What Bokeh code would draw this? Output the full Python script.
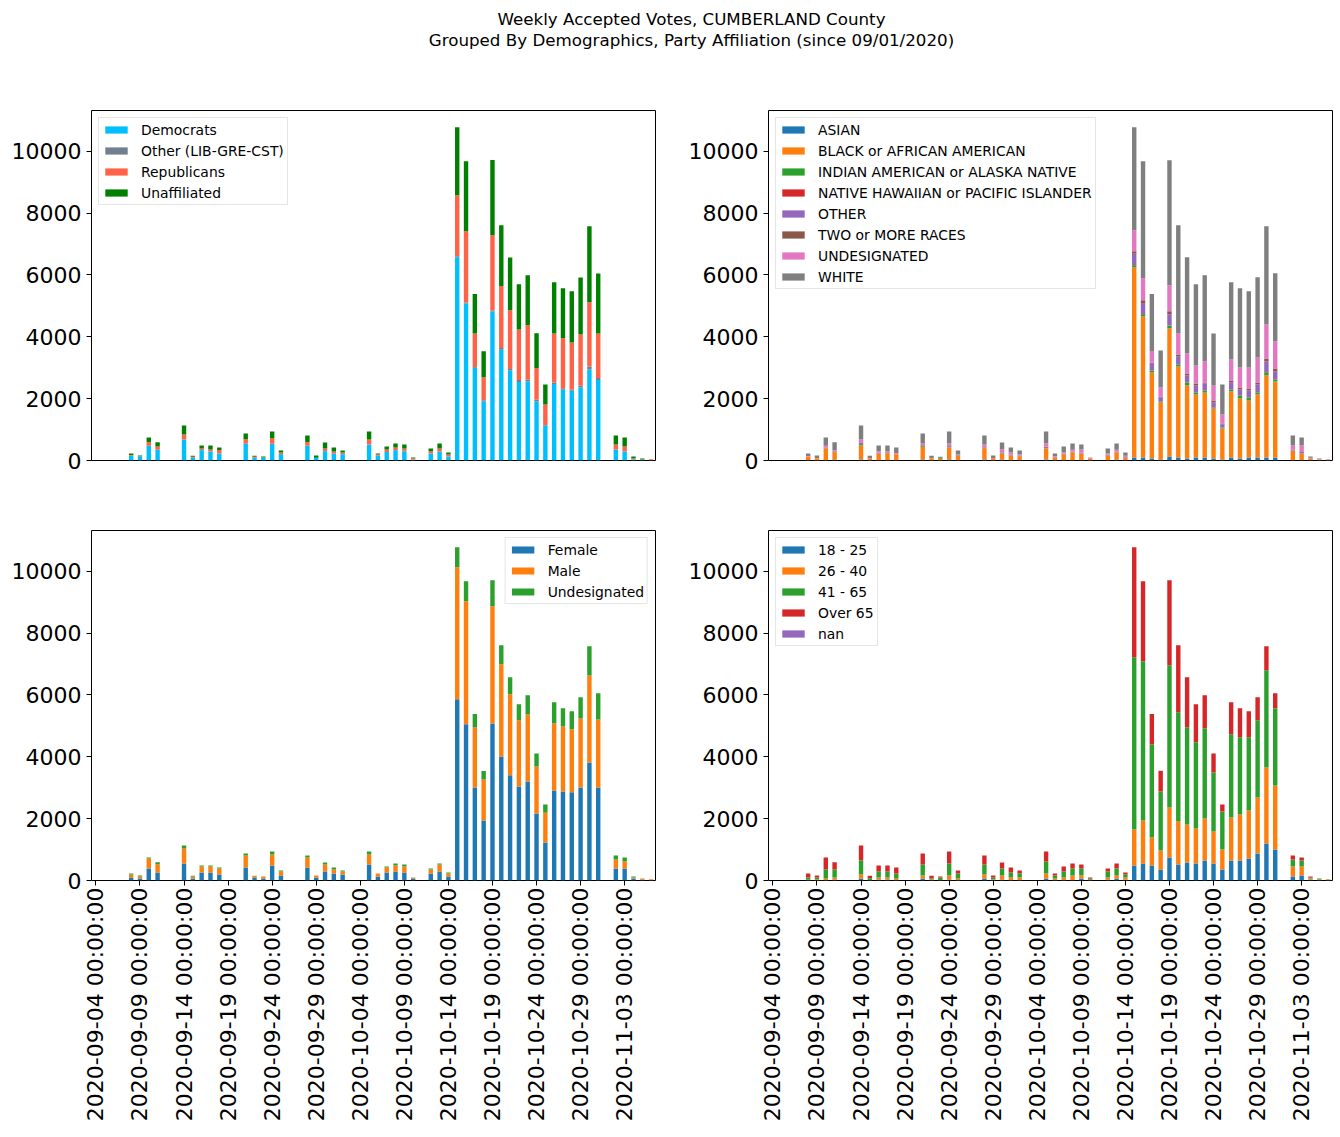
import math
from bokeh.plotting import figure
from bokeh.models import ColumnDataSource, Range1d, FixedTicker
from bokeh.layouts import column, row
from bokeh.core.properties import value
from bokeh.embed import file_html
from bokeh.resources import INLINE

TITLE_1 = "Weekly Accepted Votes, CUMBERLAND County"
TITLE_2 = "Grouped By Demographics, Party Affiliation (since 09/01/2020)"

# one category per day, 2020-09-04 .. 2020-11-06 (index 0..63)
DAY_INDEX = list(range(64))
TICK_POS = [0, 5, 10, 15, 20, 25, 30, 35, 40, 45, 50, 55, 60]
TICK_LABELS = ["2020-09-04 00:00:00", "2020-09-09 00:00:00", "2020-09-14 00:00:00",
               "2020-09-19 00:00:00", "2020-09-24 00:00:00", "2020-09-29 00:00:00",
               "2020-10-04 00:00:00", "2020-10-09 00:00:00", "2020-10-14 00:00:00",
               "2020-10-19 00:00:00", "2020-10-24 00:00:00", "2020-10-29 00:00:00",
               "2020-11-03 00:00:00"]
Y_TICKS = [0, 2000, 4000, 6000, 8000, 10000]

# ---- party ----
PARTY_LABELS = ["Democrats", "Other (LIB-GRE-CST)", "Republicans", "Unaffiliated"]
DEM = [0, 0, 0, 0, 150, 130, 475, 345,
       0, 0, 669, 86, 334, 291, 227, 0,
       0, 540, 86, 86, 540, 205, 0, 0,
       475, 86, 302, 227, 205, 0, 0, 507,
       151, 275, 334, 302, 32, 0, 227, 291,
       129, 6570, 5080, 3000, 1920, 4815, 3580, 2920,
       2535, 2565, 1920, 1130, 2470, 2285, 2255, 2360,
       2945, 2600, 0, 345, 290, 40, 25, 5]
OTH = [0, 0, 0, 0, 0, 0, 5, 0,
       0, 0, 10, 0, 3, 3, 3, 0,
       0, 5, 0, 0, 5, 3, 0, 0,
       5, 0, 3, 3, 3, 0, 0, 10,
       0, 3, 3, 10, 0, 0, 5, 3,
       3, 35, 30, 25, 25, 40, 55, 40,
       65, 45, 45, 20, 55, 55, 35, 65,
       95, 65, 0, 10, 10, 0, 0, 0]
REP = [0, 0, 0, 0, 25, 10, 108, 108,
       0, 0, 163, 33, 54, 65, 107, 0,
       0, 140, 33, 10, 172, 54, 0, 0,
       119, 0, 86, 64, 54, 0, 0, 163,
       43, 78, 87, 76, 43, 0, 64, 97,
       65, 1975, 2300, 1085, 750, 2430, 2005, 1900,
       1640, 1760, 1025, 660, 1585, 1610, 1530, 1650,
       2075, 1445, 0, 165, 150, 35, 10, 35]
UNA = [0, 0, 0, 0, 52, 22, 157, 140,
       0, 0, 291, 32, 95, 127, 84, 0,
       0, 189, 32, 33, 222, 62, 0, 0,
       210, 76, 192, 127, 62, 0, 0, 259,
       33, 97, 126, 130, 22, 0, 92, 159,
       62, 2200, 2266, 1273, 840, 2430, 1965, 1705,
       1457, 1618, 1122, 647, 1651, 1619, 1651, 1845,
       2460, 1940, 0, 290, 290, 55, 30, 3]

# ---- race ----
RACE_LABELS = ["ASIAN", "BLACK or AFRICAN AMERICAN", "INDIAN AMERICAN or ALASKA NATIVE",
               "NATIVE HAWAIIAN or PACIFIC ISLANDER", "OTHER", "TWO or MORE RACES",
               "UNDESIGNATED", "WHITE"]
ASIAN = [0, 0, 0, 0, 5, 3, 5, 32,
         0, 0, 32, 3, 5, 5, 5, 0,
         0, 32, 3, 3, 32, 5, 0, 0,
         32, 3, 32, 10, 5, 0, 0, 32,
         10, 5, 10, 10, 4, 0, 5, 32,
         5, 97, 97, 65, 32, 129, 97, 65,
         97, 97, 65, 32, 97, 65, 97, 97,
         97, 97, 0, 20, 20, 10, 5, 0]
BLACK = [0, 0, 0, 0, 125, 70, 390, 238,
         0, 0, 454, 60, 220, 230, 200, 0,
         0, 410, 73, 51, 389, 146, 0, 0,
         367, 73, 195, 152, 135, 0, 0, 356,
         87, 200, 260, 217, 50, 0, 157, 238,
         92, 6150, 4564, 2784, 1845, 4144, 2946, 2363,
         2039, 2104, 1618, 1004, 2137, 1942, 1845, 2039,
         2654, 2460, 0, 295, 200, 50, 25, 15]
INDIAN = [0, 0, 0, 0, 0, 0, 5, 3,
          0, 0, 43, 0, 2, 3, 0, 0,
          0, 32, 0, 55, 5, 20, 0, 0,
          5, 0, 3, 0, 0, 0, 0, 5,
          0, 0, 0, 0, 0, 0, 0, 0,
          0, 65, 65, 64, 33, 86, 65, 97,
          65, 65, 33, 32, 64, 97, 97, 65,
          98, 65, 0, 5, 7, 2, 0, 0]
NHPI = [0, 0, 0, 0, 0, 0, 0, 0,
        0, 0, 5, 0, 0, 0, 0, 0,
        0, 0, 0, 0, 0, 0, 0, 0,
        0, 0, 0, 0, 0, 0, 0, 0,
        0, 0, 0, 0, 0, 0, 0, 0,
        0, 10, 10, 5, 5, 10, 8, 8,
        8, 5, 5, 3, 5, 5, 5, 5,
        10, 8, 0, 2, 0, 0, 0, 0]
OTHER_R = [0, 0, 0, 0, 5, 3, 10, 20,
           0, 0, 30, 3, 20, 10, 10, 0,
           0, 20, 0, 0, 30, 5, 0, 0,
           15, 3, 30, 30, 20, 0, 0, 20,
           20, 15, 10, 32, 0, 0, 20, 20,
           20, 368, 335, 211, 124, 357, 250, 218,
           219, 221, 156, 94, 222, 189, 222, 254,
           346, 251, 0, 20, 45, 5, 0, 3]
TWO = [0, 0, 0, 0, 5, 0, 5, 5,
       0, 0, 20, 0, 5, 15, 0, 0,
       0, 10, 0, 0, 10, 5, 0, 0,
       10, 0, 5, 3, 0, 0, 0, 35,
       5, 5, 0, 0, 0, 0, 0, 0,
       0, 75, 108, 32, 20, 97, 65, 65,
       64, 33, 65, 33, 65, 65, 65, 65,
       97, 97, 0, 5, 5, 2, 0, 0]
UND_R = [0, 0, 0, 0, 5, 5, 60, 30,
         0, 0, 97, 5, 50, 40, 25, 0,
         0, 60, 5, 0, 84, 25, 0, 0,
         90, 5, 95, 64, 34, 0, 0, 107,
         15, 34, 64, 97, 32, 0, 45, 55,
         34, 680, 712, 378, 300, 842, 680, 648,
         583, 680, 486, 291, 679, 647, 679, 809,
         1100, 874, 0, 140, 210, 20, 10, 15]
WHITE = [0, 0, 0, 0, 82, 81, 270, 265,
         0, 0, 452, 80, 184, 183, 181, 0,
         0, 310, 70, 15, 389, 118, 0, 0,
         290, 78, 223, 162, 130, 0, 0, 384,
         90, 194, 206, 162, 11, 0, 161, 205,
         108, 3334, 3788, 1845, 1198, 4046, 3496, 3107,
         2622, 2783, 1683, 971, 2493, 2558, 2461, 2590,
         3173, 2201, 0, 322, 258, 40, 25, 10]

# ---- gender ----
GENDER_LABELS = ["Female", "Male", "Undesignated"]
FEMALE = [0, 0, 0, 0, 97, 65, 388, 259,
          0, 0, 550, 65, 259, 259, 194, 0,
          0, 421, 97, 65, 486, 162, 0, 0,
          421, 97, 291, 227, 194, 0, 0, 518,
          129, 259, 291, 259, 65, 0, 227, 291,
          129, 5860, 5050, 3010, 1940, 5080, 4010, 3400,
          3040, 3200, 2170, 1230, 2910, 2880, 2850, 3010,
          3820, 3010, 0, 388, 388, 65, 32, 10]
MALE = [0, 0, 0, 0, 97, 64, 324, 270,
        0, 0, 486, 64, 194, 194, 194, 0,
        0, 388, 54, 64, 356, 129, 0, 0,
        324, 65, 227, 129, 97, 0, 0, 324,
        98, 162, 195, 194, 32, 0, 129, 227,
        98, 4270, 3980, 1940, 1330, 3790, 2980, 2620,
        2140, 2170, 1520, 960, 2170, 2100, 2040, 2230,
        2810, 2200, 0, 292, 227, 32, 33, 33]
UND_G = [0, 0, 0, 0, 33, 33, 33, 64,
         0, 0, 97, 22, 33, 33, 33, 0,
         0, 65, 0, 0, 97, 33, 0, 0,
         64, 0, 65, 65, 33, 0, 0, 97,
         0, 32, 64, 65, 0, 0, 32, 32,
         32, 650, 650, 434, 269, 841, 617, 551,
         517, 618, 420, 270, 682, 588, 581, 684,
         945, 843, 0, 129, 130, 32, 0, 0]

# ---- age ----
AGE_LABELS = ["18 - 25", "26 - 40", "41 - 65", "Over 65", "nan"]
A18 = [0, 0, 0, 0, 5, 3, 10, 32,
       0, 0, 65, 5, 32, 32, 10, 0,
       0, 65, 5, 5, 32, 10, 0, 0,
       65, 5, 32, 10, 10, 0, 0, 65,
       10, 10, 15, 65, 5, 0, 32, 65,
       32, 486, 550, 486, 356, 745, 518, 583,
       550, 647, 550, 356, 647, 647, 712, 874,
       1198, 1003, 0, 129, 162, 32, 10, 5]
A26 = [0, 0, 0, 0, 20, 30, 55, 65,
       0, 0, 129, 15, 65, 65, 55, 0,
       0, 97, 27, 10, 130, 55, 0, 0,
       129, 27, 130, 87, 87, 0, 0, 162,
       55, 87, 147, 97, 20, 0, 65, 97,
       65, 1165, 1392, 906, 615, 1618, 1392, 1230,
       1133, 1360, 1036, 647, 1392, 1489, 1554, 1813,
       2460, 2072, 0, 324, 291, 33, 20, 30]
A41 = [0, 0, 0, 0, 72, 64, 291, 259,
       0, 0, 453, 50, 194, 194, 162, 0,
       0, 356, 33, 82, 388, 162, 0, 0,
       324, 65, 226, 162, 130, 0, 0, 388,
       97, 194, 226, 226, 40, 0, 194, 226,
       97, 5567, 5147, 3010, 1910, 4597, 3528, 3140,
       2784, 2913, 1910, 1231, 2687, 2493, 2363, 2492,
       3140, 2493, 0, 227, 194, 32, 35, 8]
A65 = [0, 0, 0, 0, 130, 65, 389, 237,
       0, 0, 486, 81, 195, 195, 194, 0,
       0, 356, 86, 32, 389, 97, 0, 0,
       291, 65, 195, 162, 97, 0, 0, 324,
       65, 162, 162, 130, 32, 0, 97, 162,
       65, 3561, 2590, 982, 669, 2751, 2169, 1618,
       1230, 1068, 615, 226, 1036, 939, 842, 745,
       777, 485, 0, 129, 98, 32, 0, 0]
ANAN = [0] * 64

PARTY_COLORS = ["#00bfff", "#708090", "#ff6347", "#008000"]
TAB10 = ["#1f77b4", "#ff7f0e", "#2ca02c", "#d62728", "#9467bd", "#8c564b", "#e377c2", "#7f7f7f"]

FONT = "DejaVu Sans"
totals = [d + o + r + u for d, o, r, u in zip(DEM, OTH, REP, UNA)]
YMAX = max(totals) * 1.05


def make_fig(width, height, mbl, mbr, mbt, mbb, show_x):
    p = figure(width=width, height=height,
               x_range=Range1d(-0.5, 63.5), y_range=Range1d(0, YMAX),
               output_backend="svg", toolbar_location=None, tools="",
               min_border_left=mbl, min_border_right=mbr,
               min_border_top=mbt, min_border_bottom=mbb,
               x_axis_location="below" if show_x else None)
    p.background_fill_color = "white"
    p.border_fill_color = "white"
    p.outline_line_color = "black"
    p.outline_line_width = 1
    p.outline_line_alpha = 1
    p.xgrid.visible = False
    p.ygrid.visible = False
    ax = p.yaxis[0]
    ax.ticker = FixedTicker(ticks=Y_TICKS)
    ax.axis_line_color = None
    ax.major_tick_out = 5
    ax.major_tick_in = 0
    ax.minor_tick_line_color = None
    ax.major_label_text_font = FONT
    ax.major_label_text_font_size = "22px"
    ax.major_label_text_color = "black"
    ax.major_label_standoff = 5
    if show_x:
        xa = p.xaxis[0]
        xa.ticker = FixedTicker(ticks=TICK_POS)
        xa.major_label_overrides = {t: l for t, l in zip(TICK_POS, TICK_LABELS)}
        xa.major_label_orientation = math.pi / 2
        xa.axis_line_color = None
        xa.major_tick_out = 5
        xa.major_tick_in = 0
        xa.minor_tick_line_color = None
        xa.major_label_text_font = FONT
        xa.major_label_text_font_size = "22px"
        xa.major_label_text_color = "black"
        xa.major_label_standoff = 2
    return p


def add_stack(p, series, labels, colors, loc):
    data = {"x": DAY_INDEX}
    keys = []
    for i, s in enumerate(series):
        k = "s%d" % i
        data[k] = s
        keys.append(k)
    src = ColumnDataSource(data)
    p.vbar_stack(keys, x="x", width=0.5, fill_color=colors, line_color=None,
                 source=src, legend_label=labels)
    lg = p.legend[0]
    lg.location = loc
    lg.margin = 7
    lg.padding = 3
    lg.spacing = 4
    lg.label_height = 17
    lg.glyph_height = 9
    lg.glyph_width = 28
    lg.label_standoff = 11
    lg.label_text_font = FONT
    lg.label_text_font_size = "13.9px"
    lg.label_text_color = "black"
    lg.border_line_color = "#cccccc"
    lg.border_line_width = 1
    lg.background_fill_alpha = 0.8


# title strip
tfig = figure(width=1334, height=70, x_range=Range1d(0, 1334), y_range=Range1d(0, 70),
              output_backend="svg", toolbar_location=None, tools="", min_border=0,
              x_axis_location=None, y_axis_location=None)
tfig.outline_line_color = None
tfig.xgrid.visible = False
tfig.ygrid.visible = False
tfig.text(x=[691, 691], y=[52, 31], text=[TITLE_1, TITLE_2], text_align="center",
          text_baseline="middle", text_font=value(FONT), text_font_size="16.7px",
          text_color="black")

tl = make_fig(665, 410, 91, 10, 40, 20, False)
tr = make_fig(669, 410, 103, 2, 40, 20, False)
bl = make_fig(665, 650, 91, 10, 50, 250, True)
br = make_fig(669, 650, 103, 2, 50, 250, True)

add_stack(tl, [DEM, OTH, REP, UNA], PARTY_LABELS, PARTY_COLORS, "top_left")
add_stack(tr, [ASIAN, BLACK, INDIAN, NHPI, OTHER_R, TWO, UND_R, WHITE], RACE_LABELS, TAB10, "top_left")
add_stack(bl, [FEMALE, MALE, UND_G], GENDER_LABELS, TAB10[:3], "top_right")
add_stack(br, [A18, A26, A41, A65, ANAN], AGE_LABELS, TAB10[:5], "top_left")

layout = column(tfig, row(tl, tr), row(bl, br))
open("out.html", "w").write(file_html(layout, INLINE))
